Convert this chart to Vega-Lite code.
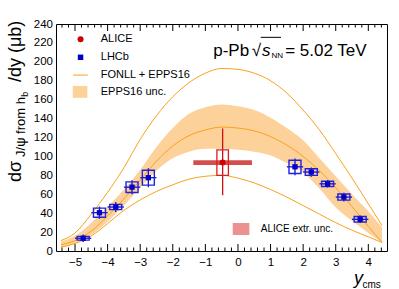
{
  "$schema": "https://vega.github.io/schema/vega-lite/v6.json",
  "width": 331,
  "height": 227,
  "autosize": {"type": "none"},
  "padding": {"left": 56, "top": 24, "right": 12, "bottom": 38},
  "background": "white",
  "config": {
    "view": {"stroke": "black", "strokeWidth": 1},
    "font": "Liberation Sans",
    "text": {"font": "Liberation Sans", "color": "black"},
    "axis": {"grid": false, "title": null, "domain": false, "ticks": false, "tickSize": 0, "labelColor": "black", "labelFont": "Liberation Sans", "labelFontSize": 11.5, "labelOverlap": false, "labelFlush": false, "labelBound": false}
  },
  "datasets": {
    "curves": [
      {"x": -5.43, "central": 6.5, "upper": 11, "lower": 4, "blo": 4, "bhi": 10},
      {"x": -5, "central": 11, "upper": 19, "lower": 8, "blo": 8, "bhi": 16},
      {"x": -4.5, "central": 21, "upper": 39, "lower": 16, "blo": 17, "bhi": 30},
      {"x": -4, "central": 37, "upper": 62, "lower": 29, "blo": 31, "bhi": 47},
      {"x": -3.5, "central": 55, "upper": 88, "lower": 43, "blo": 48, "bhi": 65},
      {"x": -3, "central": 75, "upper": 118, "lower": 54, "blo": 67, "bhi": 86},
      {"x": -2.5, "central": 95, "upper": 143, "lower": 63, "blo": 85, "bhi": 110},
      {"x": -2, "central": 111, "upper": 163, "lower": 70, "blo": 98, "bhi": 130},
      {"x": -1.5, "central": 122, "upper": 178, "lower": 76, "blo": 105, "bhi": 145},
      {"x": -1, "central": 128, "upper": 188, "lower": 79, "blo": 108, "bhi": 152},
      {"x": -0.5, "central": 131, "upper": 193, "lower": 80, "blo": 108, "bhi": 155},
      {"x": 0, "central": 130, "upper": 192, "lower": 77, "blo": 107, "bhi": 153},
      {"x": 0.5, "central": 127, "upper": 188, "lower": 72, "blo": 105, "bhi": 149},
      {"x": 1, "central": 121, "upper": 180, "lower": 65, "blo": 101, "bhi": 141},
      {"x": 1.5, "central": 112, "upper": 167, "lower": 57, "blo": 93, "bhi": 130},
      {"x": 2, "central": 100, "upper": 149, "lower": 48, "blo": 83, "bhi": 117},
      {"x": 2.5, "central": 85, "upper": 128, "lower": 39, "blo": 66, "bhi": 98},
      {"x": 3, "central": 67, "upper": 103, "lower": 30, "blo": 46, "bhi": 79},
      {"x": 3.5, "central": 47, "upper": 77, "lower": 22, "blo": 32, "bhi": 60},
      {"x": 4, "central": 26, "upper": 50, "lower": 15, "blo": 19, "bhi": 42},
      {"x": 4.42, "central": 9, "upper": 27, "lower": 9, "blo": 9, "bhi": 25}
    ],
    "lhcb": [
      {"x": -4.75, "xlo": -5.0, "xhi": -4.5, "y": 13.5, "ylo": 9.5, "yhi": 17.5, "slo": 11.5, "shi": 15.5},
      {"x": -4.25, "xlo": -4.5, "xhi": -4.0, "y": 40.5, "ylo": 34, "yhi": 47, "slo": 35.7, "shi": 45.3},
      {"x": -3.75, "xlo": -4.0, "xhi": -3.5, "y": 46.5, "ylo": 41.2, "yhi": 51.8, "slo": 43.7, "shi": 49.3},
      {"x": -3.25, "xlo": -3.5, "xhi": -3.0, "y": 67.5, "ylo": 60.1, "yhi": 74.9, "slo": 61.9, "shi": 73.1},
      {"x": -2.75, "xlo": -3.0, "xhi": -2.5, "y": 77.5, "ylo": 67.5, "yhi": 87.5, "slo": 69.6, "shi": 85.4},
      {"x": 1.75, "xlo": 1.5, "xhi": 2.0, "y": 89, "ylo": 80.2, "yhi": 97.8, "slo": 82, "shi": 96},
      {"x": 2.25, "xlo": 2.0, "xhi": 2.5, "y": 83.5, "ylo": 78.6, "yhi": 88.4, "slo": 80, "shi": 87},
      {"x": 2.75, "xlo": 2.5, "xhi": 3.0, "y": 71, "ylo": 67.1, "yhi": 74.9, "slo": 68.2, "shi": 73.8},
      {"x": 3.25, "xlo": 3.0, "xhi": 3.5, "y": 57, "ylo": 52.4, "yhi": 61.6, "slo": 53.8, "shi": 60.2},
      {"x": 3.75, "xlo": 3.5, "xhi": 4.0, "y": 33.5, "ylo": 29.5, "yhi": 37.5, "slo": 30.5, "shi": 36.5}
    ],
    "alice": [
      {"x": -0.47, "xlo": -1.37, "xhi": 0.43, "y": 93.5, "ylo": 59, "yhi": 129.5, "slo": 80, "shi": 107, "elo": 91, "ehi": 96}
    ],
    "xmajor": [{"x": -5}, {"x": -4}, {"x": -3}, {"x": -2}, {"x": -1}, {"x": 0}, {"x": 1}, {"x": 2}, {"x": 3}, {"x": 4}],
    "xminor": [{"x": -5.4}, {"x": -5.2}, {"x": -4.8}, {"x": -4.6}, {"x": -4.4}, {"x": -4.2}, {"x": -3.8}, {"x": -3.6}, {"x": -3.4}, {"x": -3.2}, {"x": -2.8}, {"x": -2.6}, {"x": -2.4}, {"x": -2.2}, {"x": -1.8}, {"x": -1.6}, {"x": -1.4}, {"x": -1.2}, {"x": -0.8}, {"x": -0.6}, {"x": -0.4}, {"x": -0.2}, {"x": 0.2}, {"x": 0.4}, {"x": 0.6}, {"x": 0.8}, {"x": 1.2}, {"x": 1.4}, {"x": 1.6}, {"x": 1.8}, {"x": 2.2}, {"x": 2.4}, {"x": 2.6}, {"x": 2.8}, {"x": 3.2}, {"x": 3.4}, {"x": 3.6}, {"x": 3.8}, {"x": 4.2}, {"x": 4.4}],
    "ymajor": [{"y": 20}, {"y": 40}, {"y": 60}, {"y": 80}, {"y": 100}, {"y": 120}, {"y": 140}, {"y": 160}, {"y": 180}, {"y": 200}, {"y": 220}],
    "yminor": [{"y": 4}, {"y": 8}, {"y": 12}, {"y": 16}, {"y": 24}, {"y": 28}, {"y": 32}, {"y": 36}, {"y": 44}, {"y": 48}, {"y": 52}, {"y": 56}, {"y": 64}, {"y": 68}, {"y": 72}, {"y": 76}, {"y": 84}, {"y": 88}, {"y": 92}, {"y": 96}, {"y": 104}, {"y": 108}, {"y": 112}, {"y": 116}, {"y": 124}, {"y": 128}, {"y": 132}, {"y": 136}, {"y": 144}, {"y": 148}, {"y": 152}, {"y": 156}, {"y": 164}, {"y": 168}, {"y": 172}, {"y": 176}, {"y": 184}, {"y": 188}, {"y": 192}, {"y": 196}, {"y": 204}, {"y": 208}, {"y": 212}, {"y": 216}, {"y": 224}, {"y": 228}, {"y": 232}, {"y": 236}],
    "origin": [{"x": 0, "y": 0}]
  },
  "layer": [
    {
      "encoding": {
        "x": {"field": "x", "type": "quantitative", "axis": null,
              "scale": {"domain": [-5.43, 4.42], "nice": false, "zero": false}}
      },
      "layer": [
        {
          "data": {"name": "curves"},
          "mark": {"type": "area", "interpolate": "monotone", "color": "#fdd29a"},
          "encoding": {
            "y": {"field": "blo", "type": "quantitative", "axis": null,
                  "scale": {"domain": [0, 240], "nice": false, "zero": false}},
            "y2": {"field": "bhi"}
          }
        },
        {
          "data": {"name": "curves"},
          "mark": {"type": "line", "interpolate": "monotone", "color": "#f9a11b", "strokeWidth": 1},
          "encoding": {"y": {"field": "upper", "type": "quantitative", "axis": null}}
        },
        {
          "data": {"name": "curves"},
          "mark": {"type": "line", "interpolate": "monotone", "color": "#f9a11b", "strokeWidth": 1},
          "encoding": {"y": {"field": "central", "type": "quantitative", "axis": null}}
        },
        {
          "data": {"name": "curves"},
          "mark": {"type": "line", "interpolate": "monotone", "color": "#f9a11b", "strokeWidth": 1},
          "encoding": {"y": {"field": "lower", "type": "quantitative", "axis": null}}
        },
        {
          "data": {"name": "alice"},
          "mark": {"type": "rect", "color": "#d03c3c", "opacity": 0.9},
          "encoding": {
            "x": {"field": "xlo", "type": "quantitative", "axis": null},
            "x2": {"field": "xhi"},
            "y": {"field": "elo", "type": "quantitative", "axis": null},
            "y2": {"field": "ehi"}
          }
        },
        {
          "data": {"name": "alice"},
          "mark": {"type": "rule", "color": "#d01010", "strokeWidth": 1.3},
          "encoding": {
            "y": {"field": "ylo", "type": "quantitative", "axis": null},
            "y2": {"field": "yhi"}
          }
        },
        {
          "data": {"name": "alice"},
          "mark": {"type": "bar", "filled": false, "color": "#d82020", "width": 11.5, "strokeWidth": 1.3},
          "encoding": {
            "y": {"field": "slo", "type": "quantitative", "axis": null},
            "y2": {"field": "shi"}
          }
        },
        {
          "data": {"name": "alice"},
          "mark": {"type": "point", "shape": "circle", "filled": true, "color": "#d00000", "size": 36, "opacity": 1},
          "encoding": {"y": {"field": "y", "type": "quantitative", "axis": null}}
        },
        {
          "data": {"name": "lhcb"},
          "mark": {"type": "rule", "color": "#1010cc", "strokeWidth": 1.3},
          "encoding": {
            "x": {"field": "xlo", "type": "quantitative", "axis": null},
            "x2": {"field": "xhi"},
            "y": {"field": "y", "type": "quantitative", "axis": null}
          }
        },
        {
          "data": {"name": "lhcb"},
          "mark": {"type": "rule", "color": "#1010cc", "strokeWidth": 1.3},
          "encoding": {
            "y": {"field": "ylo", "type": "quantitative", "axis": null},
            "y2": {"field": "yhi"}
          }
        },
        {
          "data": {"name": "lhcb"},
          "mark": {"type": "bar", "filled": false, "color": "#2020dd", "width": 12, "strokeWidth": 1.4},
          "encoding": {
            "y": {"field": "slo", "type": "quantitative", "axis": null},
            "y2": {"field": "shi"}
          }
        },
        {
          "data": {"name": "lhcb"},
          "mark": {"type": "point", "shape": "square", "filled": true, "color": "#0000cc", "size": 28, "opacity": 1},
          "encoding": {"y": {"field": "y", "type": "quantitative", "axis": null}}
        },
        {
          "data": {"values": [{"x": -4.83, "y": 223.8}]},
          "mark": {"type": "point", "shape": "circle", "filled": true, "color": "#d00000", "size": 36, "opacity": 1},
          "encoding": {"y": {"field": "y", "type": "quantitative", "axis": null}}
        },
        {
          "data": {"values": [{"x": -4.83, "y": 204.8}]},
          "mark": {"type": "point", "shape": "square", "filled": true, "color": "#0000cc", "size": 30, "opacity": 1},
          "encoding": {"y": {"field": "y", "type": "quantitative", "axis": null}}
        },
        {
          "data": {"values": [{"x": -5.06, "x2": -4.61, "y": 186}]},
          "mark": {"type": "rule", "color": "#f9a11b", "strokeWidth": 1},
          "encoding": {
            "x2": {"field": "x2"},
            "y": {"field": "y", "type": "quantitative", "axis": null}
          }
        },
        {
          "data": {"values": [{"x": -5.07, "x2": -4.62, "y": 162, "y2": 174.4}]},
          "mark": {"type": "rect", "color": "#fdd29a"},
          "encoding": {
            "x2": {"field": "x2"},
            "y": {"field": "y", "type": "quantitative", "axis": null},
            "y2": {"field": "y2"}
          }
        },
        {
          "data": {"values": [{"x": -0.16, "x2": 0.35, "y": 16.9, "y2": 29.6}]},
          "mark": {"type": "rect", "color": "#ec9090"},
          "encoding": {
            "x2": {"field": "x2"},
            "y": {"field": "y", "type": "quantitative", "axis": null},
            "y2": {"field": "y2"}
          }
        },
        {
          "data": {"values": [
            {"x": -4.21, "y": 223.8, "t": "ALICE"},
            {"x": -4.21, "y": 204.8, "t": "LHCb"},
            {"x": -4.21, "y": 186, "t": "FONLL + EPPS16"},
            {"x": -4.21, "y": 168.2, "t": "EPPS16 unc."}
          ]},
          "mark": {"type": "text", "align": "left", "baseline": "middle", "fontSize": 11},
          "encoding": {"y": {"field": "y", "type": "quantitative", "axis": null}, "text": {"field": "t"}}
        },
        {
          "data": {"values": [{"x": 0.7, "y": 22.9, "t": "ALICE extr. unc."}]},
          "mark": {"type": "text", "align": "left", "baseline": "middle", "fontSize": 10},
          "encoding": {"y": {"field": "y", "type": "quantitative", "axis": null}, "text": {"field": "t"}}
        },
        {
          "data": {"values": [
            {"x": -0.76, "y": 206, "t": "p-Pb"},
            {"x": 0.42, "y": 206, "t": "√"},
            {"x": 1.45, "y": 206, "t": "= 5.02 TeV"}
          ]},
          "mark": {"type": "text", "align": "left", "baseline": "alphabetic", "fontSize": 17},
          "encoding": {"y": {"field": "y", "type": "quantitative", "axis": null}, "text": {"field": "t"}}
        },
        {
          "data": {"values": [{"x": 0.735, "y": 206, "t": "s"}]},
          "mark": {"type": "text", "align": "left", "baseline": "alphabetic", "fontSize": 17, "fontStyle": "italic"},
          "encoding": {"y": {"field": "y", "type": "quantitative", "axis": null}, "text": {"field": "t"}}
        },
        {
          "data": {"values": [{"x": 1.03, "y": 204, "t": "NN"}]},
          "mark": {"type": "text", "align": "left", "baseline": "alphabetic", "fontSize": 8},
          "encoding": {"y": {"field": "y", "type": "quantitative", "axis": null}, "text": {"field": "t"}}
        },
        {
          "data": {"values": [{"x": 0.7, "x2": 1.32, "y": 225.9}]},
          "mark": {"type": "rule", "color": "black", "strokeWidth": 1},
          "encoding": {
            "x2": {"field": "x2"},
            "y": {"field": "y", "type": "quantitative", "axis": null}
          }
        },
        {
          "data": {"values": [{"x": 3.56, "y": -35, "t": "y"}]},
          "mark": {"type": "text", "align": "left", "baseline": "alphabetic", "fontSize": 18, "fontStyle": "italic"},
          "encoding": {"y": {"field": "y", "type": "quantitative", "axis": null}, "text": {"field": "t"}}
        },
        {
          "data": {"values": [{"x": 3.82, "y": -38.6, "t": "cms"}]},
          "mark": {"type": "text", "align": "left", "baseline": "alphabetic", "fontSize": 10},
          "encoding": {"y": {"field": "y", "type": "quantitative", "axis": null}, "text": {"field": "t"}}
        },
        {
          "data": {"values": [
            {"x": -5.43, "y": 73, "t": "dσ"},
            {"x": -5.43, "y": 178.6, "t": "/dy (μb)"}
          ]},
          "mark": {"type": "text", "align": "left", "baseline": "alphabetic", "fontSize": 18, "angle": 270, "dy": -40},
          "encoding": {"y": {"field": "y", "type": "quantitative", "axis": null}, "text": {"field": "t"}}
        },
        {
          "data": {"values": [{"x": -5.43, "y": 99.5, "t": "J/ψ from h"}]},
          "mark": {"type": "text", "align": "left", "baseline": "alphabetic", "fontSize": 13, "angle": 270, "dy": -36},
          "encoding": {"y": {"field": "y", "type": "quantitative", "axis": null}, "text": {"field": "t"}}
        },
        {
          "data": {"values": [{"x": -5.43, "y": 163, "t": "b"}]},
          "mark": {"type": "text", "align": "left", "baseline": "alphabetic", "fontSize": 9, "angle": 270, "dy": -33},
          "encoding": {"y": {"field": "y", "type": "quantitative", "axis": null}, "text": {"field": "t"}}
        },
        {
          "data": {"name": "xmajor"},
          "mark": {"type": "tick", "orient": "vertical", "size": 14, "thickness": 1, "color": "black", "opacity": 1, "clip": true},
          "encoding": {"y": {"datum": 0, "type": "quantitative", "axis": null}}
        },
        {
          "data": {"name": "xmajor"},
          "mark": {"type": "tick", "orient": "vertical", "size": 14, "thickness": 1, "color": "black", "opacity": 1, "clip": true},
          "encoding": {"y": {"datum": 240, "type": "quantitative", "axis": null}}
        },
        {
          "data": {"name": "xminor"},
          "mark": {"type": "tick", "orient": "vertical", "size": 7, "thickness": 1, "color": "black", "opacity": 1, "clip": true},
          "encoding": {"y": {"datum": 0, "type": "quantitative", "axis": null}}
        },
        {
          "data": {"name": "xminor"},
          "mark": {"type": "tick", "orient": "vertical", "size": 7, "thickness": 1, "color": "black", "opacity": 1, "clip": true},
          "encoding": {"y": {"datum": 240, "type": "quantitative", "axis": null}}
        },
        {
          "data": {"name": "ymajor"},
          "mark": {"type": "tick", "orient": "horizontal", "size": 15, "thickness": 1, "color": "black", "opacity": 1, "clip": true},
          "encoding": {"x": {"datum": -5.43, "type": "quantitative", "axis": null}, "y": {"field": "y", "type": "quantitative", "axis": null}}
        },
        {
          "data": {"name": "ymajor"},
          "mark": {"type": "tick", "orient": "horizontal", "size": 15, "thickness": 1, "color": "black", "opacity": 1, "clip": true},
          "encoding": {"x": {"datum": 4.42, "type": "quantitative", "axis": null}, "y": {"field": "y", "type": "quantitative", "axis": null}}
        },
        {
          "data": {"name": "yminor"},
          "mark": {"type": "tick", "orient": "horizontal", "size": 7.4, "thickness": 1, "color": "black", "opacity": 1, "clip": true},
          "encoding": {"x": {"datum": -5.43, "type": "quantitative", "axis": null}, "y": {"field": "y", "type": "quantitative", "axis": null}}
        },
        {
          "data": {"name": "yminor"},
          "mark": {"type": "tick", "orient": "horizontal", "size": 7.4, "thickness": 1, "color": "black", "opacity": 1, "clip": true},
          "encoding": {"x": {"datum": 4.42, "type": "quantitative", "axis": null}, "y": {"field": "y", "type": "quantitative", "axis": null}}
        }
      ]
    },
    {
      "data": {"name": "origin"},
      "mark": {"type": "point", "opacity": 0},
      "encoding": {
        "x": {
          "field": "x", "type": "quantitative",
          "scale": {"domain": [-5.43, 4.42], "nice": false, "zero": false},
          "axis": {
            "orient": "bottom",
            "values": [-5, -4, -3, -2, -1, 0, 1, 2, 3, 4],
            "format": "d",
            "labelPadding": 5
          }
        },
        "y": {
          "field": "y", "type": "quantitative",
          "scale": {"domain": [0, 240], "nice": false, "zero": false},
          "axis": {
            "orient": "left",
            "values": [0, 20, 40, 60, 80, 100, 120, 140, 160, 180, 200, 220, 240],
            "format": "d",
            "labelPadding": 3.5
          }
        }
      }
    }
  ],
  "resolve": {"axis": {"x": "independent", "y": "independent"}}
}
